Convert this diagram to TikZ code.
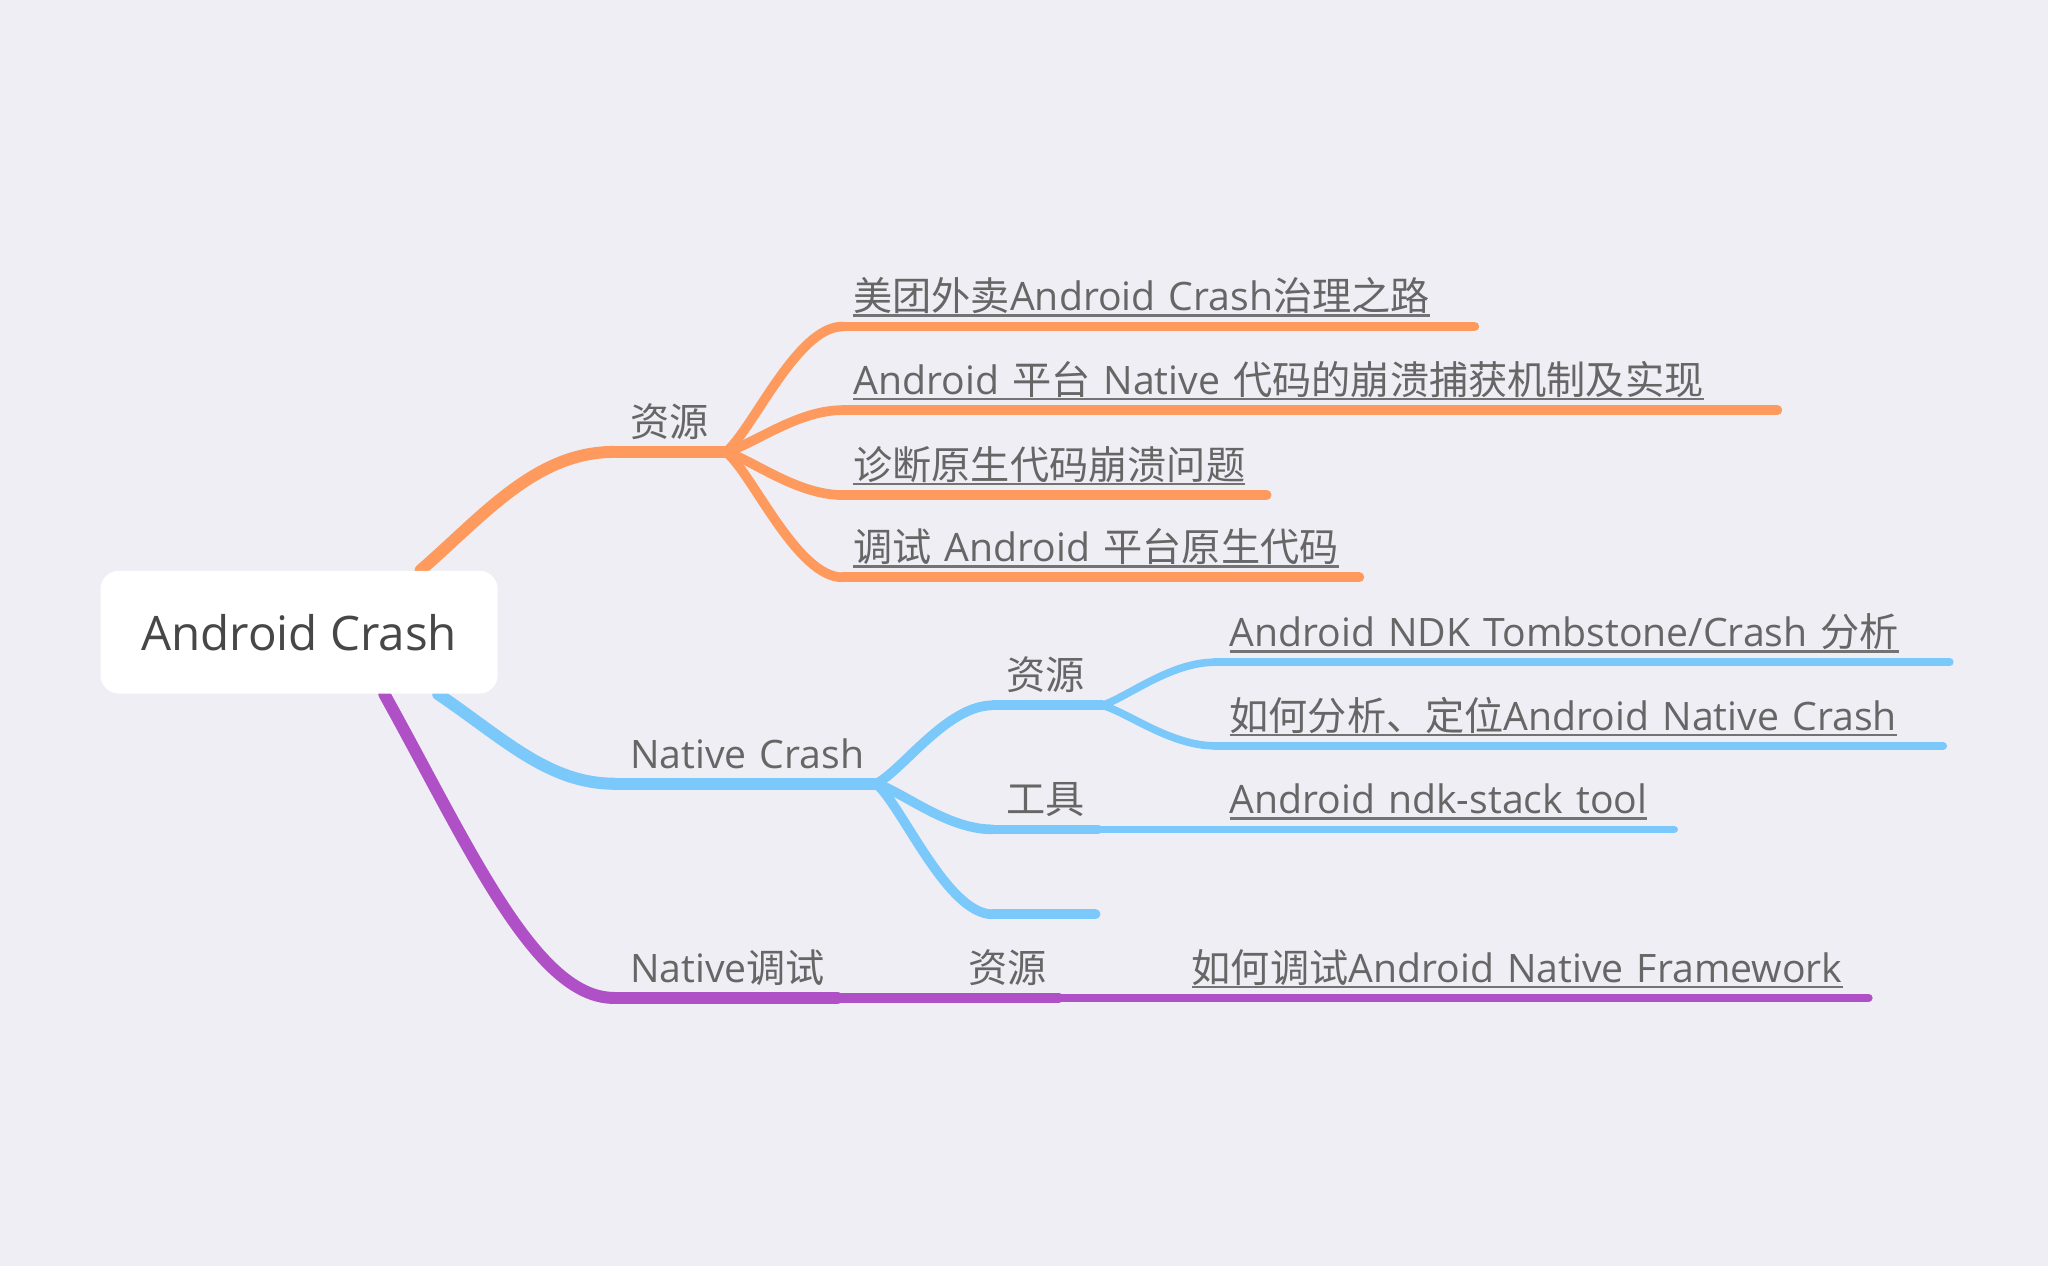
\documentclass[tikz,border=0pt]{standalone}
\usepackage{fontspec}
\setmainfont{Open Sans}
\newfontfamily\cjk{Noto Sans CJK SC}
\definecolor{bgc}{HTML}{EFEEF4}
\definecolor{orangebr}{HTML}{FF9A5E}
\definecolor{bluebr}{HTML}{7BC8FA}
\definecolor{purplebr}{HTML}{AF50C6}
\definecolor{txt}{HTML}{666666}
\definecolor{ulc}{HTML}{737373}
\definecolor{roottxt}{HTML}{474747}
\newcommand\zh[1]{{\cjk #1}}
\newsavebox\lnkbox
\newcommand\lnk[1]{\sbox\lnkbox{#1}\rlap{\color{ulc}\rule[-2.25pt]{\wd\lnkbox}{1pt}}\usebox\lnkbox}
\pgfdeclarelayer{bg}
\pgfsetlayers{bg,main}
\tikzset{
  root/.style={fill=white,rounded corners=7pt,minimum width=152pt,minimum height=47pt,text=roottxt,font=\fontsize{18.2pt}{22pt}\selectfont},
  topic/.style 2 args={anchor=south west,inner xsep=0pt,inner ysep=5.75pt,text depth=0pt,align=left,text width=#1,text=txt,font=\fontsize{15pt}{18pt}\selectfont,execute at begin node={\hspace*{#2}}},
  d1/.style={line width=4.6pt,line cap=round},
  d2/.style={line width=3.7pt,line cap=round},
  d3/.style={line width=2.9pt,line cap=round}
}
\begin{document}
\begin{tikzpicture}[x=0.5pt,y=-0.5pt]
  \useasboundingbox (0,0) rectangle (1568,969);

  \node (root) [root] at (229,484) {Android Crash};

  \node (res) [topic={42.5pt}{6pt}] at (470,346) {\zh{资源}};
  \node (o1) [topic={241.5pt}{4pt}] at (645,250) {\lnk{\zh{美团外卖}Android Crash\zh{治理之路}}};
  \node (o2) [topic={357.5pt}{4pt}] at (645,314) {\lnk{Android \zh{平台} Native \zh{代码的崩溃捕获机制及实现}}};
  \node (o3) [topic={162pt}{4pt}] at (645,379) {\lnk{\zh{诊断原生代码崩溃问题}}};
  \node (o4) [topic={197.5pt}{4pt}] at (645,442) {\lnk{\zh{调试} Android \zh{平台原生代码}}};

  \node (nc) [topic={100pt}{6pt}] at (470,600) {Native Crash};
  \node (res2) [topic={41.5pt}{5pt}] at (760,540) {\zh{资源}};
  \node (b1) [topic={281pt}{5.5pt}] at (930,507) {\lnk{Android NDK Tombstone/Crash \zh{分析}}};
  \node (b2) [topic={278.5pt}{5.5pt}] at (930,571) {\lnk{\zh{如何分析、定位}Android Native Crash}};
  \node (tool) [topic={40pt}{5pt}] at (760,635) {\zh{工具}};
  \node (b3) [topic={175.5pt}{5.5pt}] at (930,635) {\lnk{Android ndk-stack tool}};
  \node (blank) [topic={39pt}{5pt}] at (760,700) {};

  \node (nd) [topic={85pt}{6pt}] at (470,764) {Native\zh{调试}};
  \node (res3) [topic={40pt}{5.5pt}] at (730,764) {\zh{资源}};
  \node (p1) [topic={265pt}{6pt}] at (900,764) {\lnk{\zh{如何调试}Android Native Framework}};

  \begin{pgfonlayer}{bg}
    \fill[bgc] (0,0) rectangle (1568,969);
    \draw[d1,orangebr] (root.27) .. controls (370,395) and (410,346) .. (res.south west);
    \draw[d1,bluebr] (root.-24) .. controls (385,565) and (420,600) .. (nc.south west);
    \draw[d1,purplebr] (root.-36) .. controls (360,650) and (410,764) .. (nd.south west);
  \end{pgfonlayer}

  \draw[d1,orangebr] (res.south west) -- (res.south east);
  \draw[d1,bluebr] (nc.south west) -- (nc.south east);
  \draw[d1,purplebr] (nd.south west) -- (nd.south east);

  \draw[d2,orangebr] (res.south east) .. controls +(20,-16) and +(-35,0) .. (o1.south west);
  \draw[d2,orangebr] (res.south east) .. controls +(20,-5) and +(-35,0) .. (o2.south west);
  \draw[d2,orangebr] (res.south east) .. controls +(20,6) and +(-35,0) .. (o3.south west);
  \draw[d2,orangebr] (res.south east) .. controls +(20,16) and +(-35,0) .. (o4.south west);
  \foreach \n in {o1,o2,o3,o4}
    \draw[d2,orangebr] (\n.south west) -- (\n.south east);

  \draw[d2,bluebr] (nc.south east) .. controls +(20,-10) and +(-35,0) .. (res2.south west);
  \draw[d2,bluebr] (nc.south east) .. controls +(20,6) and +(-35,0) .. (tool.south west);
  \draw[d2,bluebr] (nc.south east) .. controls +(20,17) and +(-35,0) .. (blank.south west);
  \foreach \n in {res2,tool,blank}
    \draw[d2,bluebr] (\n.south west) -- (\n.south east);
  \draw[d3,bluebr] (res2.south east) .. controls +(19,-6) and +(-34,0) .. (b1.south west);
  \draw[d3,bluebr] (res2.south east) .. controls +(19,5) and +(-34,0) .. (b2.south west);
  \draw[d3,bluebr] (tool.south east) -- (b3.south west);
  \foreach \n in {b1,b2,b3}
    \draw[d3,bluebr] (\n.south west) -- (\n.south east);

  \draw[d2,purplebr] (nd.south east) -- (res3.south west) -- (res3.south east);
  \draw[d3,purplebr] (res3.south east) -- (p1.south west) -- (p1.south east);
\end{tikzpicture}
\end{document}
